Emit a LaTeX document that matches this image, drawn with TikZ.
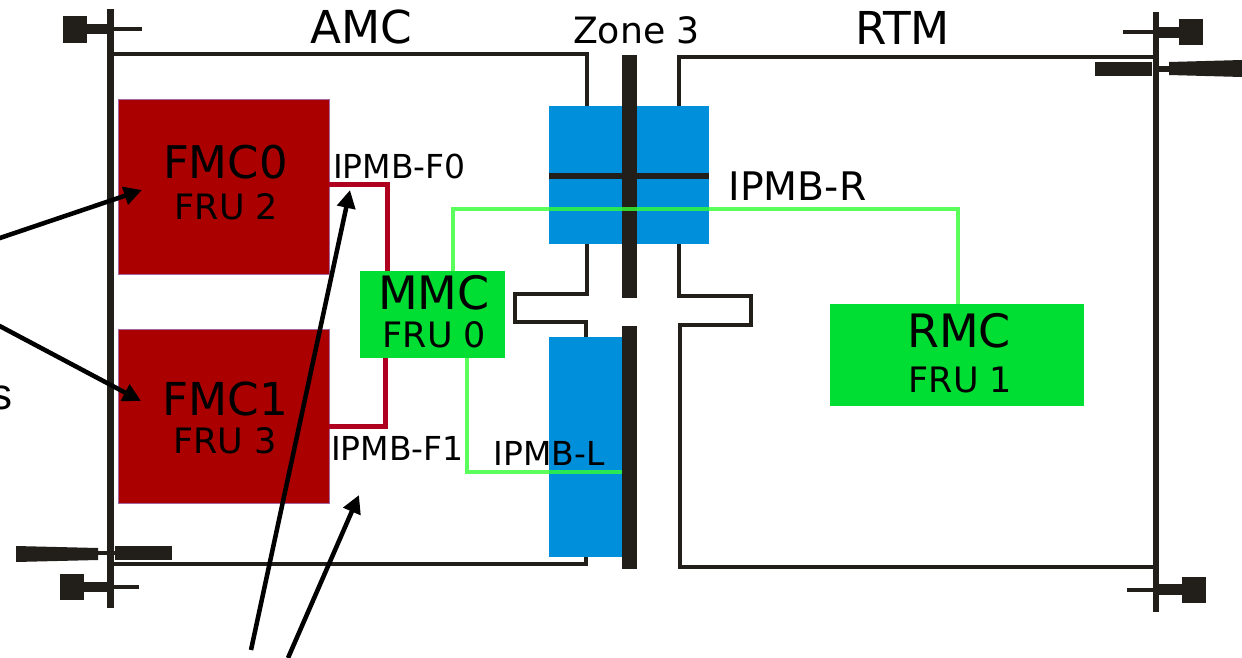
\documentclass[tikz,border=0pt]{standalone}
\usepackage{fontspec}
\setmainfont{DejaVu Sans}
\newfontfamily\arialfont{Liberation Sans}
\usetikzlibrary{arrows.meta}
\newcommand{\pxu}{0.75pt}
\newcommand{\fsz}[1]{\fontsize{#1}{#1}\selectfont}
\definecolor{inkblack}{HTML}{221E1A}
\definecolor{fmcred}{HTML}{AA0000}
\definecolor{redbus}{HTML}{B00020}
\definecolor{mmcgreen}{HTML}{00DD33}
\definecolor{busgreen}{HTML}{33FF33}
\definecolor{zoneblue}{HTML}{0090DB}
\tikzset{
  x=0.75pt,y=-0.75pt,
  box/.style={rectangle,inner sep=0pt,outer sep=0pt},
  fmcbox/.style={box,fill=fmcred,draw=fmcred!60!blue!60!white,line width=0.5pt},
  mcbox/.style={box,fill=mmcgreen},
  bluebox/.style={box,fill=zoneblue},
  outline/.style={draw=inkblack,line width=2.4pt,line join=miter},
  redline/.style={draw=redbus,line width=3.3pt,line join=miter},
  greenline/.style={draw=busgreen,line width=3.2pt,opacity=.8,line join=miter},
  greenthin/.style={draw=busgreen,line width=2.4pt,opacity=.8,line join=miter},
  callout/.style={draw=black,line width=3.4pt,-{Triangle[length=13.5pt,width=13.5pt]}},
  lbl/.style={inner sep=0pt,outer sep=0pt,anchor=base,text=black},
}
\begin{document}
\begin{tikzpicture}
\useasboundingbox (0,0) rectangle (1242,657);
\fill[white] (0,0) rectangle (1242,657);
% card outlines
\coordinate (a1) at (110,54);
\coordinate (a2) at (587,54);
\coordinate (a3) at (587,294);
\coordinate (a4) at (515,294);
\coordinate (a5) at (515,322);
\coordinate (a6) at (586,322);
\coordinate (a7) at (586,564);
\coordinate (a8) at (110,564);
\draw[outline] (a1) -- (a2) -- (a3) -- (a4) -- (a5) -- (a6) -- (a7) -- (a8);
\coordinate (b1) at (1155,57);
\coordinate (b2) at (679,57);
\coordinate (b3) at (679,296);
\coordinate (b4) at (751,296);
\coordinate (b5) at (751,325);
\coordinate (b6) at (680,325);
\coordinate (b7) at (680,567);
\coordinate (b8) at (1155,567);
\draw[outline] (b1) -- (b2) -- (b3) -- (b4) -- (b5) -- (b6) -- (b7) -- (b8);
% blue connectors
\node[bluebox,minimum width=160*\pxu,minimum height=138*\pxu] (ztop) at (629,175) {};
\node[bluebox,minimum width=73*\pxu,minimum height=220*\pxu] (zlow) at (585.5,447) {};
% black bars
\fill[inkblack] (622,55) rectangle (637,298);
\fill[inkblack] (622,326) rectangle (637,569);
\fill[inkblack] (549,173) rectangle (709,179);
% left rail and handles
\fill[inkblack] (107,9) rectangle (113.5,608);
\fill[inkblack] (63,16) rectangle (87,43);
\fill[inkblack] (87,24) rectangle (110,34);
\fill[inkblack] (110,27) rectangle (142,31);
\fill[inkblack] (60,574) rectangle (84,600);
\fill[inkblack] (84,582) rectangle (107,592);
\fill[inkblack] (107,585) rectangle (139,589);
\fill[inkblack] (16,546) -- (98,548) -- (98,560) -- (16,562) -- cycle;
\fill[inkblack] (98,551) rectangle (115,555);
\fill[inkblack] (115,546) rectangle (172,560);
% right rail and handles
\fill[inkblack] (1152.5,12) rectangle (1159,612);
\fill[inkblack] (1179,19) rectangle (1203,45);
\fill[inkblack] (1159,27) rectangle (1179,38);
\fill[inkblack] (1123,30) rectangle (1153,34);
\fill[inkblack] (1182,577) rectangle (1206,603);
\fill[inkblack] (1159,584) rectangle (1182,595);
\fill[inkblack] (1127,588) rectangle (1153,592);
\fill[inkblack] (1095,62) rectangle (1152,76);
\fill[inkblack] (1159,66) rectangle (1169,72);
\fill[inkblack] (1169,62) -- (1242,60) -- (1242,77) -- (1169,75) -- cycle;
% boxes
\node[fmcbox,minimum width=210.5*\pxu,minimum height=174.5*\pxu] (fmc0) at (223.75,186.75) {};
\node[fmcbox,minimum width=210.5*\pxu,minimum height=174*\pxu] (fmc1) at (223.75,416) {};
\node[mcbox,minimum width=145*\pxu,minimum height=87*\pxu] (mmc) at (432.5,314.5) {};
\node[mcbox,minimum width=254*\pxu,minimum height=102*\pxu] (rmc) at (957,355) {};
% IPMB buses
\coordinate (r0) at (387.5,184.5);
\coordinate (r1) at (385.5,426.5);
\draw[redline] (fmc0.east |- r0) -- (r0) -- (mmc.north -| r0);
\draw[redline] (fmc1.east |- r1) -- (r1) -- (mmc.south -| r1);
\coordinate (g1) at (453,209);
\coordinate (g2) at (958,209);
\draw[greenline] (mmc.north -| g1) -- (g1) -- (g2) -- (rmc.north -| g2);
\coordinate (g3) at (467,472);
\coordinate (g4) at (622,472);
\draw[greenthin] (mmc.south -| g3) -- (g3) -- (g4);
% labels
\node[lbl] (tamc) at (361,43) {\fsz{34}AMC};
\node[lbl] (tzone) at (636.5,43) {\fsz{27.2}Zone 3};
\node[lbl] (trtm) at (902.5,44) {\fsz{34}RTM};
\node[lbl] (tfmc0) at (225.5,178) {\fsz{33.75}FMC0};
\node[lbl] (tfru2) at (226.5,219) {\fsz{26.25}FRU 2};
\node[lbl] (tfmc1) at (225.5,415) {\fsz{34}FMC1};
\node[lbl] (tfru3) at (225,453) {\fsz{26.25}FRU 3};
\node[lbl] (tmmc) at (434,309) {\fsz{34.5}MMC};
\node[lbl] (tfru0) at (434.5,347) {\fsz{26.25}FRU 0};
\node[lbl] (trmc) at (959,347) {\fsz{34.5}RMC};
\node[lbl] (tfru1) at (960.5,392) {\fsz{26.25}FRU 1};
\node[lbl] (tf0) at (399.5,178) {\fsz{24.75}IPMB-F0};
\node[lbl] (tf1) at (397.5,460) {\fsz{24.75}IPMB-F1};
\node[lbl] (tl) at (549,465) {\fsz{24.75}IPMB-L};
\node[lbl] (tr) at (797.5,200) {\fsz{29.5}IPMB-R};
\node[inner sep=0pt,outer sep=0pt,anchor=base east] (ts) at (13,409) {\arialfont\fsz{33}s};
% callout arrows
\coordinate (s1) at (-6,240);
\coordinate (e1) at (142,190);
\coordinate (s2) at (-6,323);
\coordinate (e2) at (141,401);
\coordinate (s3) at (251,650);
\coordinate (e3) at (350,190);
\coordinate (s4) at (288,658);
\coordinate (e4) at (359,495);
\draw[callout] (s1) -- (e1);
\draw[callout] (s2) -- (e2);
\draw[callout] (s3) -- (e3);
\draw[callout] (s4) -- (e4);
\end{tikzpicture}
\end{document}
